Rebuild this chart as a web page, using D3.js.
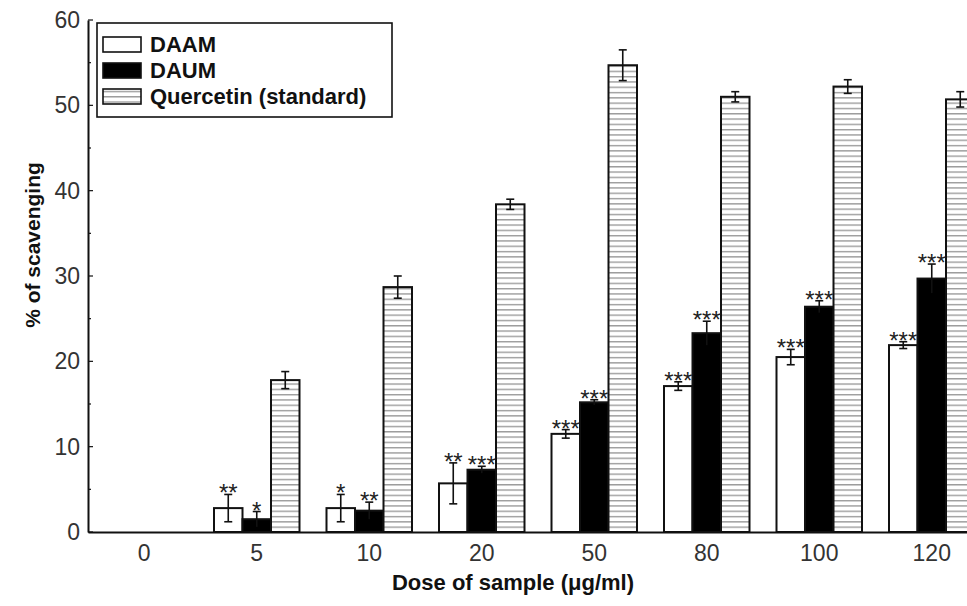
<!DOCTYPE html>
<html>
<head>
<meta charset="utf-8">
<script src="https://d3js.org/d3.v7.min.js"></script>
<style>
  body { margin: 0; background: #fff; }
  svg { display: block; font-family: Arial, "Liberation Sans", sans-serif; }
</style>
</head>
<body>
<div id="vis"></div>
<script>
// data
var doses = ["0", "5", "10", "20", "50", "80", "100", "120"];
var series = ["DAAM", "DAUM", "Quercetin (standard)"];

var daam    = [null, 2.8, 2.8, 5.7, 11.5, 17.1, 20.5, 21.9];
var daamErr = [null, 1.6, 1.6, 2.4, 0.5, 0.5, 0.9, 0.4];
var daum    = [null, 1.5, 2.5, 7.3, 15.2, 23.3, 26.4, 29.7];
var daumErr = [null, 0.9, 1.0, 0.4, 0.3, 1.4, 0.7, 1.7];
var querc    = [null, 17.8, 28.7, 38.4, 54.7, 51.0, 52.2, 50.7];
var quercErr = [null, 1.0, 1.3, 0.6, 1.8, 0.6, 0.8, 0.9];

var daamStars = ["", "**", "*", "**", "***", "***", "***", "***"];
var daumStars = ["", "*", "**", "***", "***", "***", "***", "***"];

var yTicks = [0, 10, 20, 30, 40, 50, 60];

var W = 967, H = 606;
var plotLeft = 88, plotTop = 20, plotBottom = 532;

var svg = d3.select("#vis").append("svg")
  .attr("width", W)
  .attr("height", H);

// horizontal line pattern for quercetin
var defs = svg.append("defs");
var pat = defs.append("pattern")
  .attr("id", "hlines")
  .attr("patternUnits", "userSpaceOnUse")
  .attr("width", 10)
  .attr("height", 5.3);
pat.append("rect").attr("width", 10).attr("height", 5.3).attr("fill", "#fff");
pat.append("line")
  .attr("x1", 0).attr("x2", 10)
  .attr("y1", 2.5).attr("y2", 2.5)
  .attr("stroke", "#8a8a8a")
  .attr("stroke-width", 1.2);

// scales
var x = d3.scaleBand().domain(doses).range([plotLeft, plotLeft + 8 * 112.5]).padding(0);
var y = d3.scaleLinear().domain([0, 60]).range([plotBottom, plotTop]);
var barW = 28.5;
var inner = d3.scaleBand().domain(series).range([-1.5 * barW, 1.5 * barW]);

var rows = doses.map(function (d, i) {
  return [
    { dose: d, s: series[0], v: daam[i], e: daamErr[i], star: daamStars[i], fill: "#fff" },
    { dose: d, s: series[1], v: daum[i], e: daumErr[i], star: daumStars[i], fill: "#000" },
    { dose: d, s: series[2], v: querc[i], e: quercErr[i], star: "", fill: "url(#hlines)" }
  ];
});
var flat = [].concat.apply([], rows).filter(function (d) { return d.v != null; });

function cx(d) { return x(d.dose) + x.bandwidth() / 2 + inner(d.s); }

var plot = svg.append("g");

// bars
plot.selectAll(".bar")
  .data(flat)
  .enter().append("rect")
  .attr("class", "bar")
  .attr("x", function (d) { return cx(d); })
  .attr("y", function (d) { return y(d.v); })
  .attr("width", barW)
  .attr("height", function (d) { return y(0) - y(d.v); })
  .attr("fill", function (d) { return d.fill; })
  .attr("stroke", "#111")
  .attr("stroke-width", 2);

// error bars
var eb = plot.selectAll(".err")
  .data(flat)
  .enter().append("g")
  .attr("class", "err")
  .attr("stroke", "#111")
  .attr("stroke-width", 1.6);
eb.append("line")
  .attr("x1", function (d) { return cx(d) + barW / 2; })
  .attr("x2", function (d) { return cx(d) + barW / 2; })
  .attr("y1", function (d) { return y(d.v + d.e); })
  .attr("y2", function (d) { return y(d.v - d.e); });
eb.append("line")
  .attr("x1", function (d) { return cx(d) + barW / 2 - 4; })
  .attr("x2", function (d) { return cx(d) + barW / 2 + 4; })
  .attr("y1", function (d) { return y(d.v + d.e); })
  .attr("y2", function (d) { return y(d.v + d.e); });
eb.filter(function (d) { return d.fill != "#000"; }).append("line")
  .attr("x1", function (d) { return cx(d) + barW / 2 - 4; })
  .attr("x2", function (d) { return cx(d) + barW / 2 + 4; })
  .attr("y1", function (d) { return y(d.v - d.e); })
  .attr("y2", function (d) { return y(d.v - d.e); });

// significance stars
plot.selectAll(".star")
  .data(flat.filter(function (d) { return d.star; }))
  .enter().append("text")
  .attr("class", "star")
  .attr("x", function (d) { return cx(d) + barW / 2; })
  .attr("y", function (d) { return y(d.v + d.e) + 7; })
  .attr("text-anchor", "middle")
  .attr("font-size", 24)
  .attr("fill", "#222")
  .text(function (d) { return d.star; });

// y axis
var yAxis = d3.axisLeft(y).tickValues(yTicks).tickSize(0).tickPadding(8);
var gy = svg.append("g").attr("transform", "translate(" + plotLeft + ",0)").call(yAxis);
gy.select(".domain").attr("stroke", "#111").attr("stroke-width", 2);
gy.selectAll("text").attr("font-size", 23).attr("fill", "#333").attr("font-family", "Arial, 'Liberation Sans', sans-serif");
// inward ticks
var yMinor = d3.range(0, 61, 5);
gy.selectAll(".tk")
  .data(yMinor)
  .enter().append("line")
  .attr("class", "tk")
  .attr("x1", 0)
  .attr("x2", function (d) { return d % 10 == 0 ? 5 : 3; })
  .attr("y1", function (d) { return y(d); })
  .attr("y2", function (d) { return y(d); })
  .attr("stroke", "#111")
  .attr("stroke-width", 1.2);

// x axis
var xAxis = d3.axisBottom(x).tickSize(0).tickPadding(13);
var gx = svg.append("g").attr("transform", "translate(0," + plotBottom + ")").call(xAxis);
gx.select(".domain").attr("stroke", "#111").attr("stroke-width", 2);
gx.selectAll("text").attr("font-size", 23).attr("fill", "#333").attr("font-family", "Arial, 'Liberation Sans', sans-serif");

// axis titles
svg.append("text")
  .attr("x", 513)
  .attr("y", 590)
  .attr("text-anchor", "middle")
  .attr("font-size", 22)
  .attr("font-weight", "bold")
  .attr("fill", "#111")
  .text("Dose of sample (μg/ml)");

svg.append("text")
  .attr("transform", "translate(40,245) rotate(-90)")
  .attr("text-anchor", "middle")
  .attr("font-size", 21)
  .attr("font-weight", "bold")
  .attr("fill", "#111")
  .text("% of scavenging");

// legend
var lg = svg.append("g").attr("transform", "translate(97,23)");
lg.append("rect")
  .attr("width", 295).attr("height", 94)
  .attr("fill", "#fff").attr("stroke", "#111").attr("stroke-width", 1.6);
var fills = ["#fff", "#000", "url(#hlines)"];
var items = lg.selectAll(".li")
  .data(series)
  .enter().append("g")
  .attr("class", "li")
  .attr("transform", function (d, i) { return "translate(6," + (14 + i * 26) + ")"; });
items.append("rect")
  .attr("width", 38).attr("height", 15)
  .attr("fill", function (d, i) { return fills[i]; })
  .attr("stroke", "#111").attr("stroke-width", 1.6);
items.append("text")
  .attr("x", 47).attr("y", 15)
  .attr("font-size", 22)
  .attr("font-weight", "bold")
  .attr("fill", "#111")
  .text(function (d) { return d; });
</script>
</body>
</html>
